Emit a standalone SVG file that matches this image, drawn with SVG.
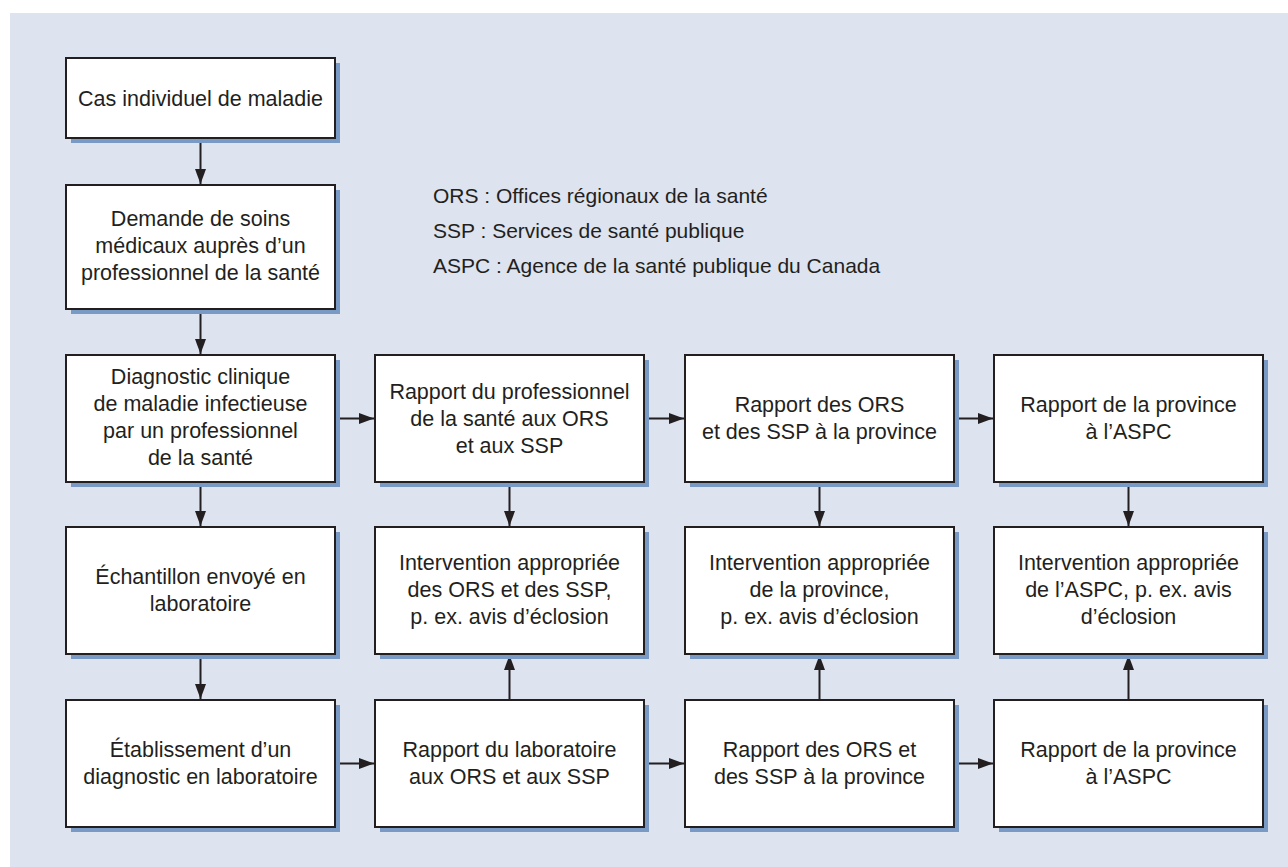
<svg xmlns="http://www.w3.org/2000/svg" width="1288" height="867" viewBox="0 0 1288 867">
<style>
.sh{fill:#7a9ac6}
.bx{fill:#ffffff;stroke:#231f20;stroke-width:2}
.t{font-family:"Liberation Sans",Arial,sans-serif;font-size:21.5px;fill:#231f20;text-anchor:middle}
.lg{font-family:"Liberation Sans",Arial,sans-serif;font-size:21px;fill:#231f20}
.c{stroke:#231f20;stroke-width:2;fill:none;marker-end:url(#ah)}
</style>
<defs>
<marker id="ah" markerUnits="userSpaceOnUse" markerWidth="16" markerHeight="12" refX="15" refY="5.5" orient="auto">
<path d="M0,0 L15,5.5 L0,11 z" fill="#231f20"/>
</marker>
</defs>
<rect x="10" y="13" width="1278" height="854" fill="#dde3ef"/>
<g id="legend">
<text class="lg" x="433" y="203">ORS : Offices régionaux de la santé</text>
<text class="lg" x="433" y="238">SSP : Services de santé publique</text>
<text class="lg" x="433" y="273">ASPC : Agence de la santé publique du Canada</text>
</g>
<g id="connectors">
<line class="c" x1="200.5" y1="139" x2="200.5" y2="184"/>
<line class="c" x1="200.5" y1="310" x2="200.5" y2="354"/>
<line class="c" x1="200.5" y1="483" x2="200.5" y2="526"/>
<line class="c" x1="200.5" y1="655" x2="200.5" y2="699"/>
<line class="c" x1="336" y1="418.5" x2="374" y2="418.5"/>
<line class="c" x1="645" y1="418.5" x2="684" y2="418.5"/>
<line class="c" x1="955" y1="418.5" x2="993" y2="418.5"/>
<line class="c" x1="509.5" y1="483" x2="509.5" y2="526"/>
<line class="c" x1="819.5" y1="483" x2="819.5" y2="526"/>
<line class="c" x1="1128.5" y1="483" x2="1128.5" y2="526"/>
<line class="c" x1="336" y1="763.5" x2="374" y2="763.5"/>
<line class="c" x1="645" y1="763.5" x2="684" y2="763.5"/>
<line class="c" x1="955" y1="763.5" x2="993" y2="763.5"/>
<line class="c" x1="509.5" y1="699" x2="509.5" y2="655"/>
<line class="c" x1="819.5" y1="699" x2="819.5" y2="655"/>
<line class="c" x1="1128.5" y1="699" x2="1128.5" y2="655"/>
</g>
<g id="n1">
<rect class="sh" x="71" y="63" width="269" height="80"/>
<rect class="bx" x="66" y="58" width="269" height="80"/>
<text class="t" x="200.5" y="106">Cas individuel de maladie</text>
</g>
<g id="n2">
<rect class="sh" x="71" y="190" width="269" height="124"/>
<rect class="bx" x="66" y="185" width="269" height="124"/>
<text class="t" x="200.5" y="226">Demande de soins</text>
<text class="t" x="200.5" y="253">médicaux auprès d’un</text>
<text class="t" x="200.5" y="280">professionnel de la santé</text>
</g>
<g id="n3">
<rect class="sh" x="71" y="360" width="269" height="127"/>
<rect class="bx" x="66" y="355" width="269" height="127"/>
<text class="t" x="200.5" y="384">Diagnostic clinique</text>
<text class="t" x="200.5" y="411">de maladie infectieuse</text>
<text class="t" x="200.5" y="438">par un professionnel</text>
<text class="t" x="200.5" y="465">de la santé</text>
</g>
<g id="n4">
<rect class="sh" x="71" y="532" width="269" height="127"/>
<rect class="bx" x="66" y="527" width="269" height="127"/>
<text class="t" x="200.5" y="584">Échantillon envoyé en</text>
<text class="t" x="200.5" y="611">laboratoire</text>
</g>
<g id="n5">
<rect class="sh" x="71" y="705" width="269" height="127"/>
<rect class="bx" x="66" y="700" width="269" height="127"/>
<text class="t" x="200.5" y="757">Établissement d’un</text>
<text class="t" x="200.5" y="784">diagnostic en laboratoire</text>
</g>
<g id="n6">
<rect class="sh" x="380" y="360" width="269" height="127"/>
<rect class="bx" x="375" y="355" width="269" height="127"/>
<text class="t" x="509.5" y="399">Rapport du professionnel</text>
<text class="t" x="509.5" y="426">de la santé aux ORS</text>
<text class="t" x="509.5" y="453">et aux SSP</text>
</g>
<g id="n7">
<rect class="sh" x="380" y="532" width="269" height="127"/>
<rect class="bx" x="375" y="527" width="269" height="127"/>
<text class="t" x="509.5" y="570">Intervention appropriée</text>
<text class="t" x="509.5" y="597">des ORS et des SSP,</text>
<text class="t" x="509.5" y="624">p. ex. avis d’éclosion</text>
</g>
<g id="n8">
<rect class="sh" x="380" y="705" width="269" height="127"/>
<rect class="bx" x="375" y="700" width="269" height="127"/>
<text class="t" x="509.5" y="757">Rapport du laboratoire</text>
<text class="t" x="509.5" y="784">aux ORS et aux SSP</text>
</g>
<g id="n9">
<rect class="sh" x="690" y="360" width="269" height="127"/>
<rect class="bx" x="685" y="355" width="269" height="127"/>
<text class="t" x="819.5" y="412">Rapport des ORS</text>
<text class="t" x="819.5" y="439">et des SSP à la province</text>
</g>
<g id="n10">
<rect class="sh" x="690" y="532" width="269" height="127"/>
<rect class="bx" x="685" y="527" width="269" height="127"/>
<text class="t" x="819.5" y="570">Intervention appropriée</text>
<text class="t" x="819.5" y="597">de la province,</text>
<text class="t" x="819.5" y="624">p. ex. avis d’éclosion</text>
</g>
<g id="n11">
<rect class="sh" x="690" y="705" width="269" height="127"/>
<rect class="bx" x="685" y="700" width="269" height="127"/>
<text class="t" x="819.5" y="757">Rapport des ORS et</text>
<text class="t" x="819.5" y="784">des SSP à la province</text>
</g>
<g id="n12">
<rect class="sh" x="999" y="360" width="269" height="127"/>
<rect class="bx" x="994" y="355" width="269" height="127"/>
<text class="t" x="1128.5" y="412">Rapport de la province</text>
<text class="t" x="1128.5" y="439">à l’ASPC</text>
</g>
<g id="n13">
<rect class="sh" x="999" y="532" width="269" height="127"/>
<rect class="bx" x="994" y="527" width="269" height="127"/>
<text class="t" x="1128.5" y="570">Intervention appropriée</text>
<text class="t" x="1128.5" y="597">de l’ASPC, p. ex. avis</text>
<text class="t" x="1128.5" y="624">d’éclosion</text>
</g>
<g id="n14">
<rect class="sh" x="999" y="705" width="269" height="127"/>
<rect class="bx" x="994" y="700" width="269" height="127"/>
<text class="t" x="1128.5" y="757">Rapport de la province</text>
<text class="t" x="1128.5" y="784">à l’ASPC</text>
</g>
</svg>
